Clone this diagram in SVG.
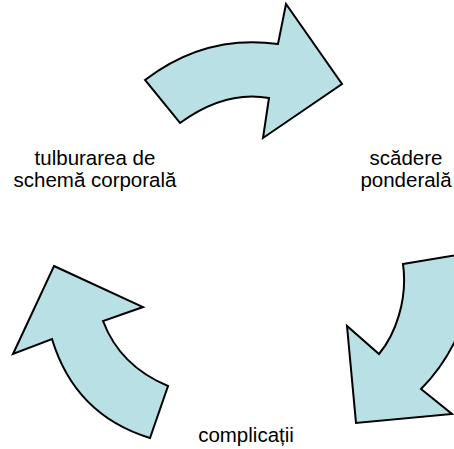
<svg xmlns="http://www.w3.org/2000/svg" width="454" height="449" viewBox="0 0 454 449">
<style>
.arrow{fill:#B9E0E4;stroke:#000;stroke-width:2;stroke-linejoin:miter}
.lbl{font-family:"Liberation Sans",Arial,sans-serif;font-size:20.5px;fill:#000;text-anchor:middle}
</style>
<rect width="454" height="449" fill="#fff"/>
<g id="connectors">
<path id="arrow-top" class="arrow" d="M145,80 Q205,34 278,44 L286,4 L342,84 L263,138 L269,98 Q225,90 180,123 Z"/>
<path id="arrow-right" class="arrow" d="M403,264 L475,252 C478,300 455,355 421,389 L452,414 L356,423 L347,326 L379,354 C395,335 408,300 403,264 Z"/>
<path id="arrow-left" class="arrow" d="M54,266 L143,307 L103,321 Q120,366 168,386 L150,438 Q75,415 52,339 L13,354 Z"/>
</g>
<g id="node-tulburarea">
<text class="lbl" x="95" y="165">tulburarea de</text>
<text class="lbl" x="95" y="187">schemă corporală</text>
</g>
<g id="node-scadere">
<text class="lbl" x="406" y="165">scădere</text>
<text class="lbl" x="406" y="187">ponderală</text>
</g>
<g id="node-complicatii">
<text class="lbl" x="246" y="442">complicații</text>
</g>
</svg>
